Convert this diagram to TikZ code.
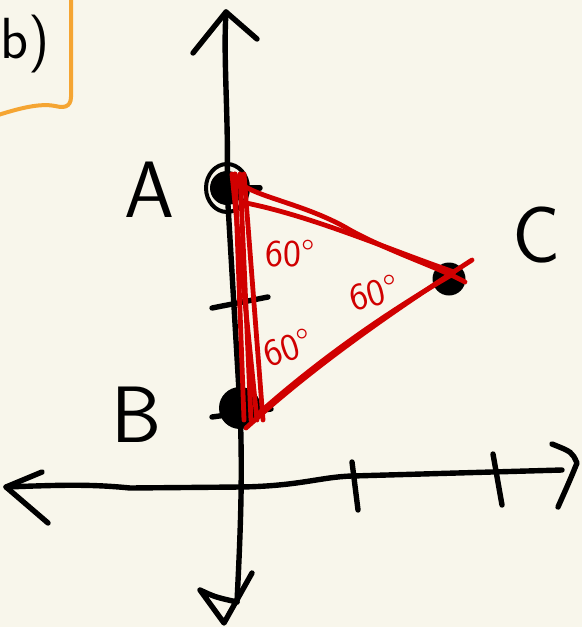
\documentclass[tikz,border=0pt]{standalone}
\usepackage{fontspec}
\usepackage{tikz}
\usetikzlibrary{calc}
\definecolor{paper}{RGB}{248,246,235}
\definecolor{penred}{RGB}{208,0,0}
\definecolor{penorange}{RGB}{245,165,50}

\begin{document}
\begin{tikzpicture}[x=1pt, y=-1pt, line cap=round, line join=round,
  ink/.style={line width=5.4pt, black},
  redink/.style={line width=4.8pt, penred},
  dot/.style={circle, fill=black, inner sep=0pt},
  letter/.style={inner sep=1pt, font=\sffamily\fontsize{80}{80}\selectfont},
  angle/.style={inner sep=0pt, text=penred, font=\sffamily\fontsize{38}{38}\selectfont}]
\fill[paper] (0,0) rectangle (582,627);
\useasboundingbox (0,0) rectangle (582,627);
\clip (0,0) rectangle (582,627);
\draw[line width=4pt, penorange] (71,-5) -- (71,97) .. controls (71,108) and (62,108) .. (55,106) .. controls (40,103) and (20,108) .. (-5,116);
\node[anchor=east, inner sep=0pt, font=\sffamily\fontsize{58}{58}\selectfont] (part) at (50,44) {b)};
\node[dot, minimum size=34pt] (A) at (227,188) {};
\node[dot, minimum size=42pt] (B) at (240,408) {};
\node[dot, minimum size=33pt] (C) at (449,279) {};
\draw[ink, line width=4pt] (A) ellipse (21pt and 24pt);
\coordinate (ytop) at (226,12);
\coordinate (ybot) at (237,602);
\coordinate (yhead) at (224,623);
\coordinate (xl) at (6,487);
\coordinate (xr) at (562,470);
\coordinate (xhead) at (577,463);
\draw[ink] (ytop) .. controls (223,60) and (229,120) .. (A.center) -- (B.center) .. controls (243,480) and (240,540) .. (ybot);
\draw[ink] (193,53) -- (ytop) -- (257,39);
\draw[ink] (252,573) -- (yhead) -- (200,590) .. controls (215,597) .. (ybot);
\draw[ink] (xl) .. controls (60,485) and (90,484) .. (130,488) -- (241,487) .. controls (300,486) and (320,477) .. (352,476) -- (xr);
\draw[ink] (42,472) -- (xl) -- (48,523);
\draw[ink] (552,444) .. controls (572,452) .. (xhead) .. controls (570,480) .. (558,507);
\draw[ink] (A.center) -- (260,188);
\draw[ink] (212,308) -- (268,297);
\draw[ink] (212,417) -- (271,409);
\draw[ink] (352,462) -- (358,510);
\draw[ink] (493,454) -- (502,505);
\coordinate (tA) at (235,174);
\coordinate (tB) at (248,420);
\coordinate (tC) at (468,272);
\foreach \dx/\ex in {0/-4, 5/3, -3/9, 9/15}
  \draw[redink] ($(tA)+(\dx,0)$) -- ($(tB)+(\ex,0)$);
\draw[redink] (tA) .. controls (236,195) and (300,200) .. (350,230) .. controls (390,252) and (440,268) .. ($(tC)+(-3,10)$);
\draw[redink] ($(tA)+(6,28)$) .. controls (310,215) and (390,250) .. ($(tC)+(-14,0)$);
\draw[redink] ($(tB)+(-2,8)$) .. controls (320,360) and (410,300) .. ($(tC)+(4,-12)$);
\draw[redink] ($(tB)+(10,-6)$) .. controls (330,350) and (400,305) .. ($(tC)+(-15,2)$);
\node[letter] (lA) at (149,190) {A};
\node[letter] (lB) at (137,415) {B};
\node[letter] (lC) at (537,235) {C};
\node[angle] (angA) at (290,254) {60°};
\node[angle, rotate=15] (angC) at (374,293) {60°};
\node[angle, rotate=18] (angB) at (288,348) {60°};
\end{tikzpicture}
\end{document}
